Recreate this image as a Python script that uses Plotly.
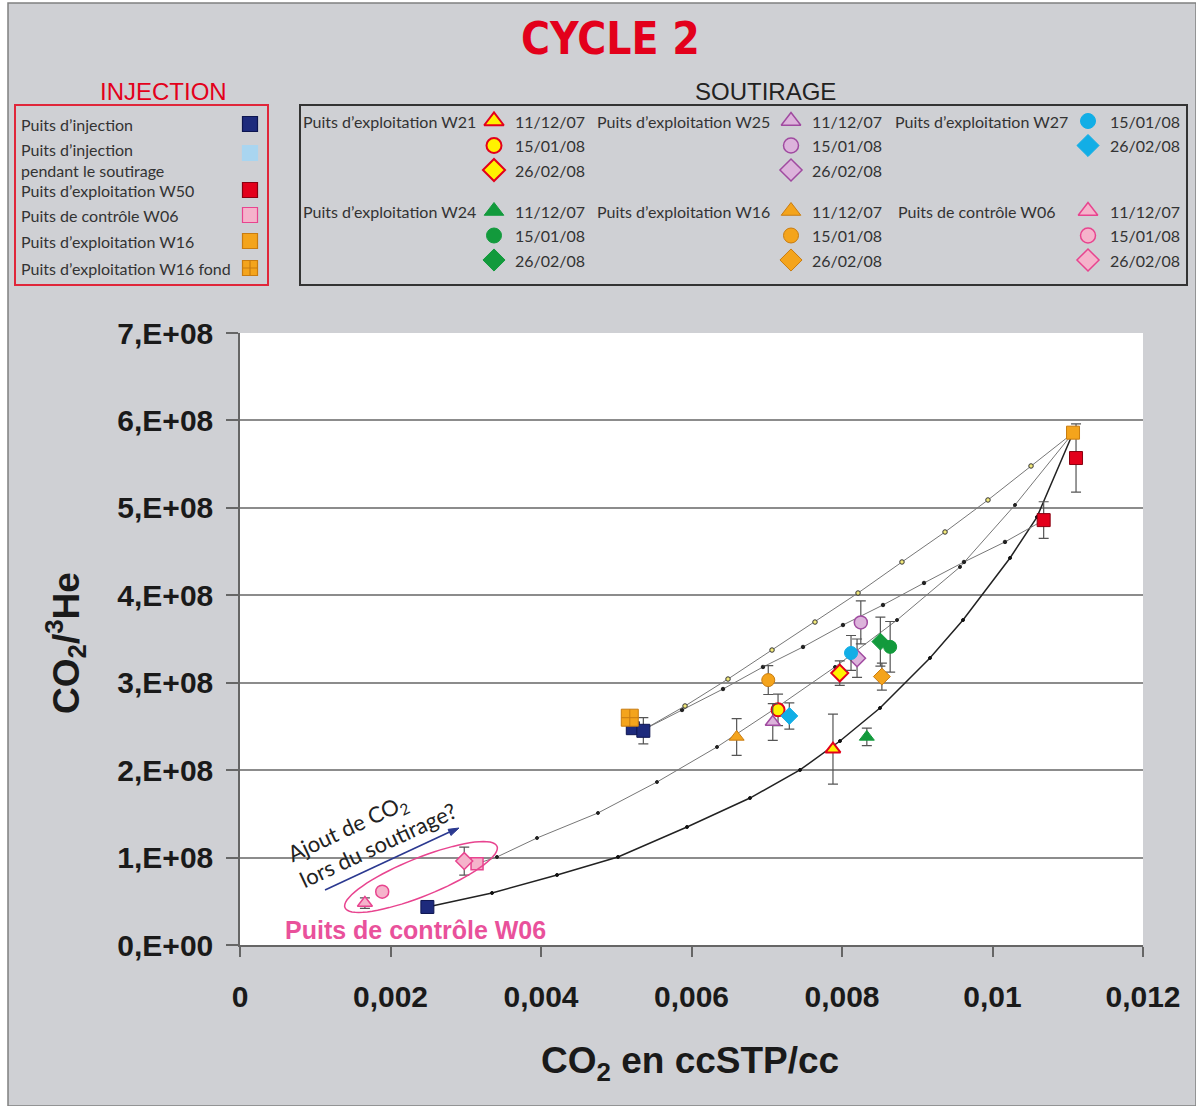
import math
import plotly.graph_objects as go

W, H = 1196, 1106
# pixel box of the chart area inside the page
PLOT_L, PLOT_R, PLOT_T, PLOT_B = 240, 1143, 333, 945

# ---- axes ----
x_ticks = [0, 0.002, 0.004, 0.006, 0.008, 0.01, 0.012]
x_tick_text = ["0", "0,002", "0,004", "0,006", "0,008", "0,01", "0,012"]
y_ticks = [0, 1e8, 2e8, 3e8, 4e8, 5e8, 6e8, 7e8]
y_tick_text = ["0,E+00", "1,E+08", "2,E+08", "3,E+08", "4,E+08", "5,E+08", "6,E+08", "7,E+08"]

dates = ["11/12/07", "15/01/08", "26/02/08"]

# ---- injection points ----
inj_x = [0.00249, 0.00522, 0.00536]
inj_y = [0.435e8, 2.48e8, 2.45e8]
inj_err = [0, 0, 0.15e8]

w50_x = [0.01111, 0.01068]
w50_y = [5.57e8, 4.86e8]
w50_err = [0.39e8, 0.21e8]

w06_inj_x = [0.00315]
w06_inj_y = [0.93e8]

w16_inj_x = [0.01107]
w16_inj_y = [5.86e8]

w16_fond_x = [0.00518]
w16_fond_y = [2.60e8]

# ---- soutirage points (triangle = 11/12/07, circle = 15/01/08, diamond = 26/02/08) ----
w21_x = [0.00788, 0.00715, 0.00797]
w21_y = [2.24e8, 2.69e8, 3.11e8]
w21_err = [0.40e8, 0.18e8, 0.14e8]

w25_x = [0.00708, 0.00825, 0.00820]
w25_y = [2.55e8, 3.69e8, 3.28e8]
w25_err = [0.21e8, 0.245e8, 0.22e8]

w27_x = [0.00812, 0.00730]          # 15/01/08, 26/02/08
w27_y = [3.34e8, 2.62e8]
w27_err = [0.20e8, 0.15e8]

w24_x = [0.00833, 0.00864, 0.00851]
w24_y = [2.38e8, 3.41e8, 3.47e8]
w24_err = [0.10e8, 0.29e8, 0.28e8]

w16_x = [0.00660, 0.00702, 0.00853]
w16_y = [2.38e8, 3.03e8, 3.07e8]
w16_err = [0.21e8, 0.165e8, 0.155e8]

w06_x = [0.00166, 0.00189, 0.00298]
w06_y = [0.48e8, 0.61e8, 0.96e8]
w06_err = [0.06e8, 0, 0.16e8]

# ---- mixing curves ----
mix1_x = [0.005355, 0.005914, 0.006485, 0.00707, 0.007641, 0.008213, 0.008797, 0.009369, 0.00994, 0.010512, 0.01107]
mix1_y = [2.459e8, 2.734e8, 3.042e8, 3.374e8, 3.694e8, 4.026e8, 4.381e8, 4.724e8, 5.09e8, 5.479e8, 5.856e8]

mix2_x = [0.005355, 0.005874, 0.006419, 0.00695, 0.007482, 0.008013, 0.008545, 0.00909, 0.009621, 0.010166, 0.010684]
mix2_y = [2.459e8, 2.688e8, 2.928e8, 3.18e8, 3.409e8, 3.66e8, 3.889e8, 4.141e8, 4.381e8, 4.61e8, 4.861e8]

mix3_x = [0.00315, 0.003415, 0.003947, 0.004757, 0.005541, 0.006339, 0.007083, 0.007907, 0.008731, 0.009568, 0.010299, 0.01107]
mix3_y = [0.93e8, 1.007e8, 1.224e8, 1.51e8, 1.864e8, 2.265e8, 2.688e8, 3.18e8, 3.717e8, 4.324e8, 5.033e8, 5.856e8]

mix4_x = [0.00249, 0.003349, 0.004213, 0.005023, 0.00594, 0.006777, 0.007442, 0.007973, 0.008505, 0.009169, 0.009608, 0.010233, 0.010591, 0.01107]
mix4_y = [0.435e8, 0.595e8, 0.801e8, 1.007e8, 1.35e8, 1.681e8, 2.002e8, 2.333e8, 2.711e8, 3.283e8, 3.717e8, 4.427e8, 4.895e8, 5.856e8]

# colours
NAVY, LIGHTBLUE, RED = "#1d2a7c", "#a9d5f0", "#e3001b"
PINK, PINK_EDGE = "#f5b3cb", "#e8448f"
ORANGE, ORANGE_EDGE = "#f4a41c", "#c97c10"
YELLOW, LILAC, LILAC_EDGE = "#fff200", "#dcb3db", "#a04aa0"
CYAN, GREEN = "#12aee6", "#129a3c"
BG_GREY = "#cfd0d4"

LEG_FONT = "Lato, Open Sans, sans-serif"
AX_FONT = "Liberation Sans, Arial, sans-serif"
SYM3 = ["triangle-up", "circle", "diamond"]

fig = go.Figure()


def add_curve(x, y, color, width, dot_fill, dot_edge, dot_size):
    fig.add_trace(go.Scatter(
        x=x, y=y, mode="lines+markers",
        line=dict(color=color, width=width),
        marker=dict(size=dot_size, color=dot_fill, line=dict(color=dot_edge, width=1)),
        hoverinfo="skip", showlegend=False))


def add_points(x, y, err, symbols, fill, edge, edge_w=1.0, size=13):
    fig.add_trace(go.Scatter(
        x=x, y=y, mode="markers",
        marker=dict(symbol=symbols, size=size, color=fill, line=dict(color=edge, width=edge_w)),
        error_y=dict(type="data", array=err, visible=True, color="#555555", thickness=1.2, width=5),
        hoverinfo="skip", showlegend=False))


# mixing lines
add_curve(mix4_x, mix4_y, "#222222", 1.5, "#111111", "#111111", 3)
add_curve(mix3_x, mix3_y, "#777777", 1, "#222222", "#222222", 3)
add_curve(mix2_x, mix2_y, "#777777", 1, "#222222", "#222222", 3.5)
add_curve(mix1_x, mix1_y, "#777777", 1, "#f3ea7a", "#333333", 4.5)

# injection
add_points(inj_x, inj_y, inj_err, "square", NAVY, "#0d1550")
add_points(w50_x, w50_y, w50_err, "square", RED, "#8a0010")
add_points(w06_inj_x, w06_inj_y, [0], "square", PINK, PINK_EDGE, 1.5, 12)
add_points(w16_inj_x, w16_inj_y, [0.04e8], "square", ORANGE, ORANGE_EDGE)
add_points(w16_fond_x, w16_fond_y, [0], "square-cross", ORANGE, ORANGE_EDGE, 1, 17)

# soutirage
add_points(w21_x, w21_y, w21_err, SYM3, YELLOW, RED, 2)
add_points(w25_x, w25_y, w25_err, SYM3, LILAC, LILAC_EDGE, 1.5)
add_points(w27_x, w27_y, w27_err, ["circle", "diamond"], CYAN, CYAN)
add_points(w24_x, w24_y, w24_err, SYM3, GREEN, GREEN)
add_points(w16_x, w16_y, w16_err, SYM3, ORANGE, ORANGE_EDGE)
add_points(w06_x, w06_y, w06_err, SYM3, PINK, PINK_EDGE, 1.5)


# ---- hand-made legends on a pixel overlay ----
def leg_marker(px, py, symbol, fill, edge, edge_w=1.0, size=16, angle=0):
    fig.add_trace(go.Scatter(
        x=[px], y=[py], xaxis="x2", yaxis="y2", mode="markers",
        marker=dict(symbol=symbol, size=size, color=fill, angle=angle,
                    line=dict(color=edge, width=edge_w)),
        hoverinfo="skip", showlegend=False))


def leg_text(px, py, text, anchor="left", size=16, color="#333333", family=LEG_FONT, weight="normal", angle=0):
    fig.add_annotation(x=px, y=py, xref="x2", yref="y2", text=text, showarrow=False,
                       xanchor=anchor, yanchor="middle", textangle=angle, align="left",
                       font=dict(family=family, size=size, color=color, weight=weight))


# injection box
inj_items = [
    ("Puits d’injection", 124, "square", NAVY, "#0d1550"),
    ("Puits d’injection<br>pendant le soutirage", 160, "square", LIGHTBLUE, LIGHTBLUE),
    ("Puits d’exploitation W50", 190, "square", RED, "#8a0010"),
    ("Puits de contrôle W06", 215, "square", PINK, PINK_EDGE),
    ("Puits d’exploitation W16", 241, "square", ORANGE, ORANGE_EDGE),
    ("Puits d’exploitation W16 fond", 268, "square-cross", ORANGE, ORANGE_EDGE),
]
for label, py, sym, fill, edge in inj_items:
    leg_text(19, py, label, size=16)
    my = 153 if "<br>" in label else py
    leg_marker(250, my, sym, fill, edge, 1.2, 15)

# soutirage box
sout_groups = [
    ("Puits d’exploitation W21", 478, 494, 513, 121, SYM3, dates, YELLOW, RED, 2),
    ("Puits d’exploitation W25", 772, 791, 810, 121, SYM3, dates, LILAC, LILAC_EDGE, 1.5),
    ("Puits d’exploitation W27", 1070, 1088, 1108, 121, ["circle", "diamond"], dates[1:], CYAN, CYAN, 1),
    ("Puits d’exploitation W24", 478, 494, 513, 211, SYM3, dates, GREEN, GREEN, 1),
    ("Puits d’exploitation W16", 772, 791, 810, 211, SYM3, dates, ORANGE, ORANGE_EDGE, 1),
    ("Puits de contrôle W06", 1057, 1088, 1108, 211, SYM3, dates, PINK, PINK_EDGE, 1.5),
]
for label, lx, mx, dx, y0, syms, ds, fill, edge, ew in sout_groups:
    leg_text(lx, y0, label, anchor="right", size=16)
    for i, (sym, d) in enumerate(zip(syms, ds)):
        py = y0 + i * 24.5
        leg_marker(mx, py, sym, fill, edge, ew, 17 if sym != "circle" else 15)
        leg_text(dx, py, d, size=16)

# titles
leg_text(610, 38, "CYCLE 2", anchor="center", size=44, color=RED,
         family="DejaVu Sans Condensed, Liberation Sans, sans-serif", weight="bold")
leg_text(163, 91, "INJECTION", anchor="center", size=24, color=RED, family=AX_FONT)
leg_text(765, 91, "SOUTIRAGE", anchor="center", size=24, color="#222222", family=AX_FONT)

# axis titles
leg_text(690, 1063, "CO<sub>2</sub> en ccSTP/cc", anchor="center", size=37, color="#1a1a1a", family=AX_FONT, weight="bold")
fig.add_annotation(x=65, y=643, xref="x2", yref="y2", text="CO<sub>2</sub>/<sup>3</sup>He", showarrow=False,
                   xanchor="center", yanchor="middle", textangle=-90,
                   font=dict(family=AX_FONT, size=37, color="#1a1a1a", weight="bold"))

# in-plot notes
leg_text(415, 930, "Puits de contrôle W06", anchor="center", size=25, color="#e9519b", family=AX_FONT, weight="bold")
leg_text(372, 832, "Ajout de CO<sub>2</sub><br>lors du soutirage?", anchor="center", size=22, color="#222222", angle=-25)
leg_marker(459, 828, "arrow", "#2b3990", "#2b3990", 1, 11, angle=65)

# ellipse around the W06 points (pixel overlay)
cx, cy, ea, eb, phi = 421, 877, 82, 19, math.radians(22)
pts = []
for k in range(73):
    t = 2 * math.pi * k / 72
    px = cx + ea * math.cos(t) * math.cos(phi) + eb * math.sin(t) * math.sin(phi)
    py = cy - ea * math.cos(t) * math.sin(phi) + eb * math.sin(t) * math.cos(phi)
    pts.append(f"{px:.1f},{py:.1f}")
ellipse_path = "M " + " L ".join(pts) + " Z"

x0p, x1p = PLOT_L / W, PLOT_R / W
y0p, y1p = 1 - PLOT_B / H, 1 - PLOT_T / H

shapes = [
    # grey page with frame
    dict(type="rect", xref="paper", yref="paper", x0=8 / W, x1=1, y0=0, y1=1 - 3 / H,
         fillcolor=BG_GREY, line=dict(color="#808080", width=1.5), layer="below"),
    # white chart area
    dict(type="rect", xref="paper", yref="paper", x0=x0p, x1=x1p, y0=y0p, y1=y1p,
         fillcolor="white", line=dict(width=0), layer="below"),
    # legend boxes
    dict(type="rect", xref="x2", yref="y2", x0=15, x1=268, y0=105, y1=285,
         line=dict(color="#e0263a", width=2), fillcolor="rgba(0,0,0,0)"),
    dict(type="rect", xref="x2", yref="y2", x0=300, x1=1187, y0=105, y1=285,
         line=dict(color="#333333", width=2), fillcolor="rgba(0,0,0,0)"),
    dict(type="path", xref="x2", yref="y2", path=ellipse_path,
         line=dict(color="#e8448f", width=1.5), fillcolor="rgba(0,0,0,0)"),
    # arrow shaft
    dict(type="line", xref="x2", yref="y2", x0=325, y0=890, x1=456, y1=829,
         line=dict(color="#2b3990", width=1.6)),
]

fig.update_layout(
    width=W, height=H,
    margin=dict(l=0, r=0, t=0, b=0, autoexpand=False),
    paper_bgcolor="white",
    plot_bgcolor="rgba(0,0,0,0)",
    showlegend=False,
    shapes=shapes,
    xaxis=dict(
        domain=[x0p, x1p], range=[0, 0.012], tickvals=x_ticks, ticktext=x_tick_text,
        showgrid=False, zeroline=False, showline=True, linecolor="#666666", linewidth=1.5,
        ticks="outside", ticklen=10, tickcolor="#666666", tickwidth=1.5, ticklabelstandoff=14,
        tickfont=dict(family=AX_FONT, size=30, color="#1a1a1a", weight="bold"),
    ),
    yaxis=dict(
        domain=[y0p, y1p], range=[0, 7e8], tickvals=y_ticks, ticktext=y_tick_text,
        showgrid=True, gridcolor="#8c8c8c", gridwidth=1.5, zeroline=False,
        showline=True, linecolor="#666666", linewidth=1.5,
        ticks="outside", ticklen=12, tickcolor="#666666", tickwidth=1.5, ticklabelstandoff=7,
        tickfont=dict(family=AX_FONT, size=30, color="#1a1a1a", weight="bold"),
    ),
    xaxis2=dict(domain=[0, 1], range=[0, W], visible=False, anchor="y2", fixedrange=True),
    yaxis2=dict(domain=[0, 1], range=[H, 0], visible=False, anchor="x2", fixedrange=True),
)

# the page's default body margin would shift the figure by 8px
fig.write_html("out.html", config={"displayModeBar": False},
               post_script="document.body.style.margin = '0px';")
